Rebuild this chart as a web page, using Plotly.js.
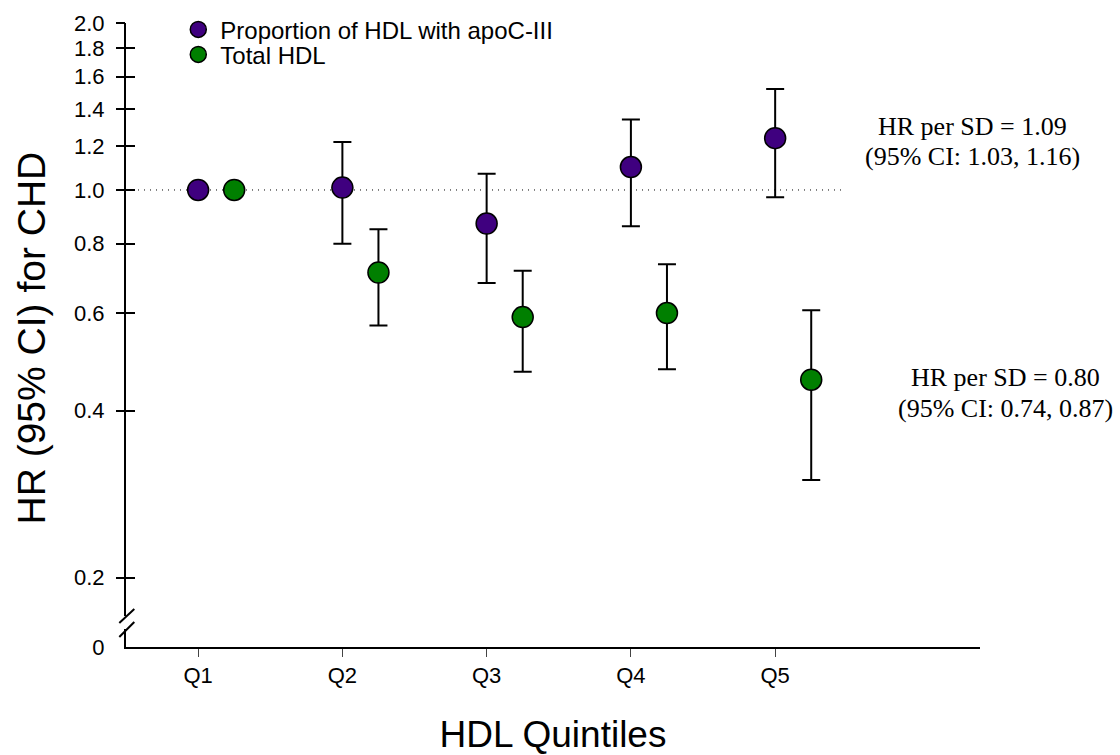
<!DOCTYPE html>
<html>
<head>
<meta charset="utf-8">
<script src="https://cdn.plot.ly/plotly-3.0.1.min.js"></script>
<style>html,body{margin:0;padding:0;background:#fff;}#chart{width:1120px;height:755px;}</style>
</head>
<body>
<div id="chart"></div>
<script>
// ---- data ----
const categories = ['Q1', 'Q2', 'Q3', 'Q4', 'Q5'];
const apocHR = [1.00, 1.01, 0.87, 1.10, 1.24];
const apocLo = [1.00, 0.80, 0.68, 0.86, 0.97];
const apocHi = [1.00, 1.22, 1.07, 1.34, 1.52];
const totalHR = [1.00, 0.71, 0.59, 0.60, 0.455];
const totalLo = [1.00, 0.57, 0.47, 0.475, 0.30];
const totalHi = [1.00, 0.85, 0.715, 0.735, 0.607];
const yTickVals = [0.15, 0.2, 0.4, 0.6, 0.8, 1.0, 1.2, 1.4, 1.6, 1.8, 2.0];
const yTickText = ['0', '0.2', '0.4', '0.6', '0.8', '1.0', '1.2', '1.4', '1.6', '1.8', '2.0'];
const seriesNames = ['Proportion of HDL with apoC-III', 'Total HDL'];
const notes = [
  ['HR per SD = 1.09', '(95% CI: 1.03, 1.16)'],
  ['HR per SD = 0.80', '(95% CI: 0.74, 0.87)']
];

const xBase = categories.map((c, i) => i + 1);
const offset = 0.25;
const xA = xBase;
const xT = xBase.map(v => v + offset);

function errTrace(name, x, y, lo, hi, color, legendId) {
  return {
    type: 'scatter', mode: 'markers', name: name, x: x, y: y, legend: legendId,
    marker: {size: 21, color: color, line: {color: '#000', width: 1.5}},
    error_y: {type: 'data', symmetric: false,
      array: hi.map((h, i) => h - y[i]),
      arrayminus: lo.map((l, i) => y[i] - l),
      color: '#000', thickness: 2, width: 9},
    hoverinfo: 'x+y'
  };
}

const refLine = {
  type: 'scatter', mode: 'lines', x: [0.5, 5.47], y: [1, 1],
  line: {color: '#000', width: 1, dash: '1px,5px'},
  showlegend: false, hoverinfo: 'skip'
};

const traces = [
  refLine,
  errTrace(seriesNames[0], xA, apocHR, apocLo, apocHi, '#3f007f', 'legend'),
  errTrace(seriesNames[1], xT, totalHR, totalLo, totalHi, '#007f00', 'legend2')
];

const yRange = [Math.log10(0.15), Math.log10(2.0)];
const sans = 'Arial, "Liberation Sans", sans-serif';
const tickFont = {family: sans, size: 22, color: '#000'};
const L = 125.7, R = 980, T = 22.7, B = 647;
const px = v => (v - L) / (R - L);
const py = v => (B - v) / (B - T);

const serif = {family: '"Times New Roman", "Liberation Serif", serif', size: 26, color: '#000'};
const annotations = [
  {xref: 'paper', yref: 'paper', x: px(972), y: py(126), text: notes[0][0], showarrow: false, xanchor: 'center', yanchor: 'middle', font: serif},
  {xref: 'paper', yref: 'paper', x: px(972), y: py(156), text: notes[0][1], showarrow: false, xanchor: 'center', yanchor: 'middle', font: serif},
  {xref: 'paper', yref: 'paper', x: px(1006), y: py(377), text: notes[1][0], showarrow: false, xanchor: 'center', yanchor: 'middle', font: serif},
  {xref: 'paper', yref: 'paper', x: px(1006), y: py(408), text: notes[1][1], showarrow: false, xanchor: 'center', yanchor: 'middle', font: serif},
  {xref: 'paper', yref: 'paper', x: px(31), y: py(338), text: 'HR (95% CI) for CHD', textangle: -90, showarrow: false,
   xanchor: 'center', yanchor: 'middle', font: {family: sans, size: 39, color: '#000'}}
];

const shapes = [
  // axis break: white gap + two slashes
  {type: 'rect', xref: 'paper', yref: 'paper', x0: px(122), x1: px(130), y0: py(629), y1: py(616), fillcolor: '#fff', line: {width: 0}, layer: 'above'},
  {type: 'line', xref: 'paper', yref: 'paper', x0: px(119), y0: py(623), x1: px(134), y1: py(609), line: {color: '#000', width: 2}, layer: 'above'},
  {type: 'line', xref: 'paper', yref: 'paper', x0: px(119), y0: py(637), x1: px(134), y1: py(622), line: {color: '#000', width: 2}, layer: 'above'}
];

const legendFont = {family: sans, size: 24, color: '#000'};
const layout = {
  width: 1120, height: 755,
  margin: {l: L, r: 1120 - R, t: T, b: 755 - B, pad: 0, autoexpand: false},
  paper_bgcolor: '#fff', plot_bgcolor: '#fff',
  showlegend: true,
  legend: {x: px(176), y: py(29.5), xanchor: 'left', yanchor: 'middle', bgcolor: 'rgba(0,0,0,0)', font: legendFont, itemwidth: 34},
  legend2: {x: px(176), y: py(54.5), xanchor: 'left', yanchor: 'middle', bgcolor: 'rgba(0,0,0,0)', font: legendFont, itemwidth: 34},
  xaxis: {
    range: [0.5, 6.42], tickvals: xBase, ticktext: categories,
    showgrid: false, zeroline: false, showline: true, linecolor: '#000', linewidth: 2,
    ticks: 'outside', ticklen: 8, tickwidth: 1, tickcolor: '#444',
    ticklabelstandoff: 0,
    tickfont: {family: sans, size: 22, color: '#000'},
    title: {text: 'HDL Quintiles', standoff: 37, font: {family: sans, size: 37, color: '#000'}},
    automargin: false
  },
  yaxis: {
    type: 'log', range: yRange, tickvals: yTickVals, ticktext: yTickText,
    showgrid: false, zeroline: false, showline: true, linecolor: '#000', linewidth: 2,
    ticks: '', ticklabelstandoff: 15, tickfont: tickFont, automargin: false
  },
  yaxis2: {
    type: 'log', range: yRange, overlaying: 'y', anchor: 'x', side: 'left',
    tickvals: yTickVals.slice(1), showticklabels: false, showgrid: false, zeroline: false, showline: false,
    ticks: 'outside', ticklen: 9, tickwidth: 2, tickcolor: '#000'
  },
  yaxis3: {
    type: 'log', range: yRange, overlaying: 'y', anchor: 'x', side: 'left',
    tickvals: yTickVals.slice(1), showticklabels: false, showgrid: false, zeroline: false, showline: false,
    ticks: 'inside', ticklen: 9, tickwidth: 2, tickcolor: '#000'
  },
  annotations: annotations,
  shapes: shapes
};

// invisible helper traces so the overlay tick axes render
const ghost2 = {type: 'scatter', mode: 'markers', x: [1], y: [1], yaxis: 'y2', marker: {opacity: 0}, showlegend: false, hoverinfo: 'skip'};
const ghost3 = {type: 'scatter', mode: 'markers', x: [1], y: [1], yaxis: 'y3', marker: {opacity: 0}, showlegend: false, hoverinfo: 'skip'};

Plotly.newPlot('chart', [ghost2, ghost3].concat(traces), layout, {displayModeBar: false, staticPlot: true});
</script>
</body>
</html>
